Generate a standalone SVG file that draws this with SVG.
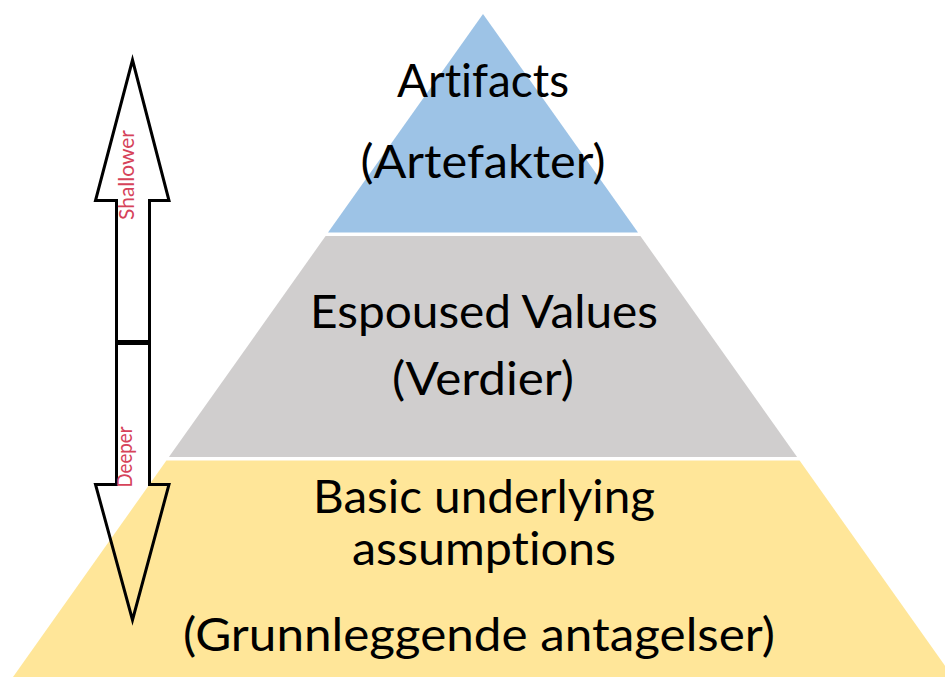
<svg xmlns="http://www.w3.org/2000/svg" width="945" height="677" viewBox="0 0 945 677">
  <style>
    .layer-text { font-family: Lato, "Open Sans", "Liberation Sans", sans-serif; font-size: 46px; fill: #000; text-anchor: middle; font-variant-ligatures: none; }
    .depth-text { font-family: Lato, "Open Sans", "Liberation Sans", sans-serif; font-size: 21px; fill: #D6435A; text-anchor: middle; font-variant-ligatures: none; }
    .arrow { fill: none; stroke: #000; stroke-width: 3; stroke-linejoin: miter; }
  </style>
  <rect width="945" height="677" fill="#fff"/>

  <!-- Top layer: artifacts -->
  <g id="artifacts">
    <polygon points="483,14 638,232.5 328,232.5" fill="#9DC3E6"/>
    <text class="layer-text" x="483" y="97" textLength="172" lengthAdjust="spacingAndGlyphs">Artifacts</text>
    <text class="layer-text" x="483" y="178" textLength="245" lengthAdjust="spacingAndGlyphs">(Artefakter)</text>
  </g>

  <!-- Middle layer: espoused values -->
  <g id="espoused-values">
    <polygon points="325.6,236 640.4,236 797.1,457 168.9,457" fill="#D0CECE"/>
    <text class="layer-text" x="484" y="328" textLength="348" lengthAdjust="spacingAndGlyphs">Espoused Values</text>
    <text class="layer-text" x="483" y="395" textLength="182" lengthAdjust="spacingAndGlyphs">(Verdier)</text>
  </g>

  <!-- Bottom layer: basic underlying assumptions -->
  <g id="basic-assumptions">
    <polygon points="166.4,460.5 799.6,460.5 953,677 13,677" fill="#FFE699"/>
    <text class="layer-text" x="484" y="513" textLength="342" lengthAdjust="spacingAndGlyphs">Basic underlying</text>
    <text class="layer-text" x="484" y="565" textLength="264" lengthAdjust="spacingAndGlyphs">assumptions</text>
    <text class="layer-text" x="479" y="651" textLength="592" lengthAdjust="spacingAndGlyphs">(Grunnleggende antagelser)</text>
  </g>

  <!-- Depth indicator arrows -->
  <g id="connectors">
    <g id="arrow-shallower">
      <polygon class="arrow" points="132.5,60 169,200.5 149.5,200.5 149.5,341.5 116.5,341.5 116.5,200.5 95.5,200.5"/>
      <text class="depth-text" transform="translate(134,175) rotate(-90)" textLength="90" lengthAdjust="spacingAndGlyphs">Shallower</text>
    </g>
    <g id="arrow-deeper">
      <polygon class="arrow" points="116.5,343.5 149.5,343.5 149.5,484.5 169,484.5 132.5,620 95.5,484.5 116.5,484.5"/>
      <text class="depth-text" transform="translate(132,457) rotate(-90)" textLength="61" lengthAdjust="spacingAndGlyphs">Deeper</text>
    </g>
  </g>
</svg>
